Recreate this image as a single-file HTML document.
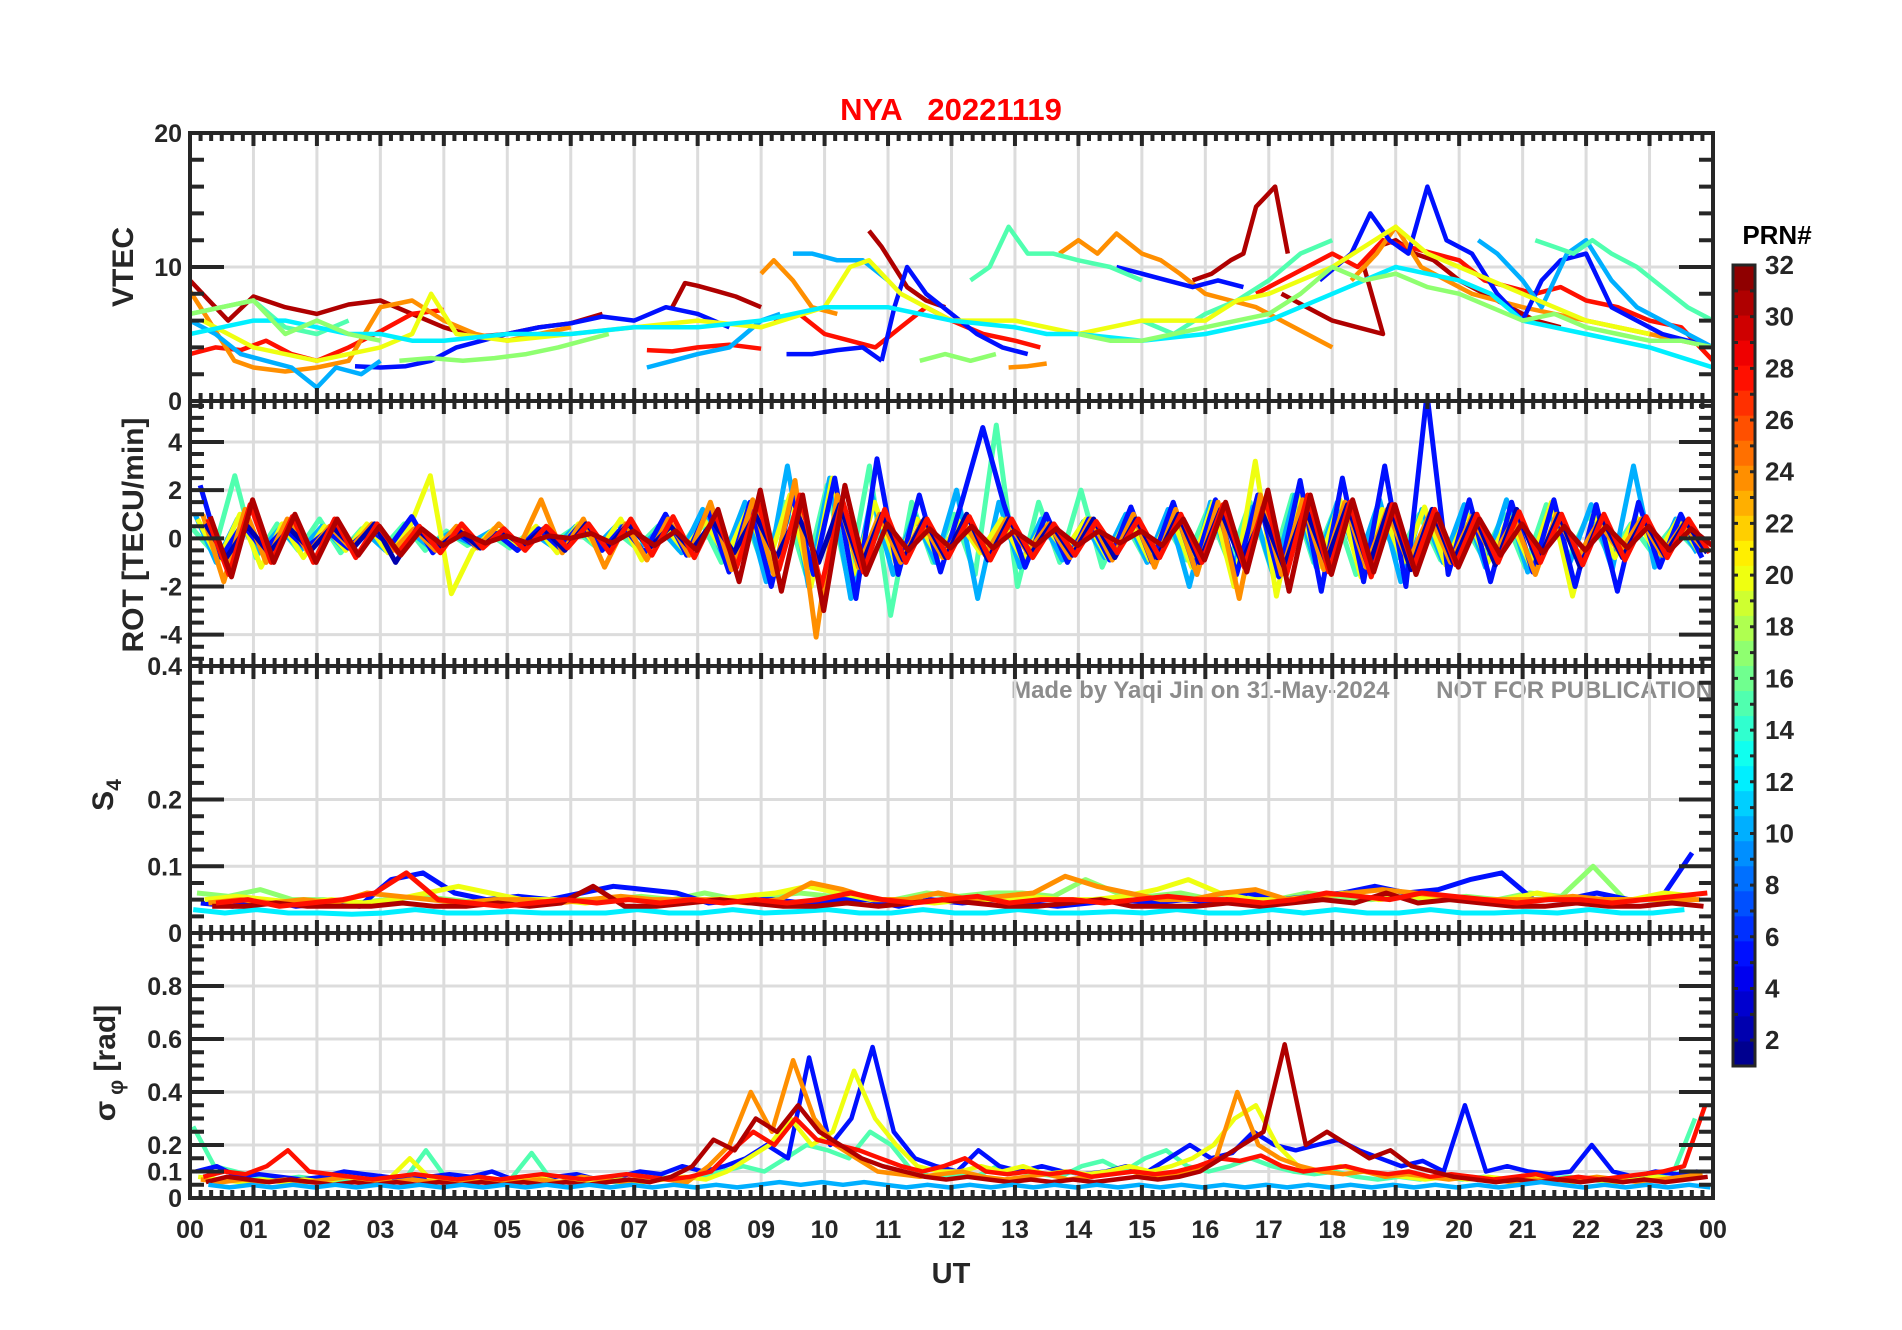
<!DOCTYPE html>
<html><head><meta charset="utf-8">
<style>
html,body{margin:0;padding:0;background:#fff;}
svg{display:block;font-family:"Liberation Sans",Arial,sans-serif;font-weight:bold;}
</style></head>
<body>
<svg id="chart" width="1902" height="1330" viewBox="0 0 1902 1330" xmlns="http://www.w3.org/2000/svg">
<rect width="1902" height="1330" fill="#fff"/>
<text x="951" y="120" text-anchor="middle" font-size="31" fill="#ff0000" xml:space="preserve">NYA   20221119</text>
<text x="1713" y="698" text-anchor="end" font-size="24" fill="#8c8c8c" xml:space="preserve">Made by Yaqi Jin on 31-May-2024       NOT FOR PUBLICATION</text>
<text transform="translate(133,267) rotate(-90)" text-anchor="middle" font-size="30" fill="#262626">VTEC</text>
<text transform="translate(143,535) rotate(-90)" text-anchor="middle" font-size="30" fill="#262626">ROT [TECU/min]</text>
<text transform="translate(113,795) rotate(-90)" text-anchor="middle" font-size="30" fill="#262626">S<tspan font-size="21" dy="8">4</tspan></text>
<text transform="translate(115,1063) rotate(-90)" text-anchor="middle" font-size="30" fill="#262626">σ<tspan font-size="21" dy="8"> φ</tspan><tspan dy="-8"> [rad]</tspan></text>
<text x="951" y="1283" text-anchor="middle" font-size="29" fill="#262626">UT</text>
<text x="1777" y="244" text-anchor="middle" font-size="26" fill="#000">PRN#</text>
<g id="layer"></g>
</svg>
<script>
// ---------- data ----------
const hourLabels=["00","01","02","03","04","05","06","07","08","09","10","11","12","13","14","15","16","17","18","19","20","21","22","23","00"];
const vtecTicks=[0,10,20];
const rotTicks=[-4,-2,0,2,4];
const s4Ticks=[0,0.1,0.2,0.4];
const sigTicks=[0,0.1,0.2,0.4,0.6,0.8];
const prnTicks=[2,4,6,8,10,12,14,16,18,20,22,24,26,28,30,32];

// VTEC segments: prn, times (h), values (TECU)
const vtecPrn=[31,31,31,31,31,28,28,28,28,24,24,24,24,24,5,5,5,5,5,10,10,10,10,15,15,15,15,20,12,17,17,17,17];
const vtecT=[
[0,0.3,0.6,1,1.5,2,2.5,3,3.5,4,4.5,5,5.5,6,6.5],
[7.6,7.8,8,8.3,8.6,9],
[10.7,10.9,11.1,11.3,11.6,11.9],
[15.8,16.1,16.4,16.6,16.8,17,17.1,17.3],
[17.2,17.6,18,18.4,18.8,18.5,18.7,19,19.3,19.6,20,20.4,20.8,21.2,21.6],
[0,0.4,0.8,1.2,1.6,2,2.5,3,3.5,4],
[7.2,7.6,8,8.5,9],
[9.2,9.6,10,10.4,10.8,11.2,11.6,12,12.5,13,13.4],
[16.8,17.2,17.6,18,18.4,18.8,19.2,19.6,20,20.4,20.8,21.2,21.6,22,22.5,23,23.5,24],
[0,0.3,0.7,1,1.5,2,2.5,3,3.5,4,4.5,5,5.5,6],
[9,9.2,9.5,9.8,10.2],
[12.9,13.2,13.5],
[13.7,14,14.3,14.6,15,15.3,15.6,16,16.4,16.8,17.2,17.6,18],
[18.3,18.7,19,19.4,19.8,20.2,20.6,21,21.5,22,22.5,23,23.5,24],
[2.6,3,3.4,3.8,4.2,4.6,5,5.5,6,6.5,7,7.5,8,8.5],
[9.4,9.8,10.2,10.6,10.9],
[10.9,11.1,11.3,11.6,12,12.4,12.8,13.2],
[14.6,15,15.4,15.8,16.2,16.6],
[17.8,18.3,18.6,18.9,19.2,19.5,19.8,20.2,20.6,21,21.3,21.6,22,22.4,22.8,23.2,23.6,24],
[0,0.4,0.8,1.2,1.6,2,2.3,2.7,3],
[7.2,7.6,8,8.5,9,9.3],
[9.5,9.8,10.2,10.6,11],
[20.3,20.6,21,21.3,21.7,22,22.4,22.8,23.2,23.6,24],
[0,0.5,1,1.5,2,2.5],
[12.3,12.6,12.9,13.2,13.6,14,14.5,15],
[15,15.5,16,16.5,17,17.5,18],
[21.2,21.5,21.8,22.1,22.4,22.8,23.2,23.6,24],
[0.2,0.6,1,1.5,2,2.5,3,3.5,3.8,4.2,5,6,7,8,9,10,10.4,10.7,11.2,12,13,14,15,16,16.5,17,17.5,18,18.5,19,19.5,20,21,22,23],
[0,0.5,1,1.5,2,2.5,3,3.5,4,5,6,7,8,9,10,11,12,13,13.5,14,15,16,17,18,19,20,20.5,21,22,23,24],
[0,0.5,1,1.5,2,2.5,3],
[3.3,3.8,4.3,4.8,5.3,5.8,6.2,6.6],
[11.5,11.9,12.3,12.7],
[14,14.5,15,15.5,16,16.5,17,17.5,18,18.5,19,19.5,20,20.5,21,21.5,22,22.5,23,23.5,24]
];
const vtecV=[
[9,7.5,6,7.8,7,6.5,7.2,7.5,6.5,5.5,4.8,5,5.5,5.8,6.5],
[7,8.8,8.6,8.2,7.8,7],
[12.7,11.5,10,8.5,7.5,7],
[9,9.5,10.5,11,14.5,15.5,16,11],
[8,7,6,5.5,5,10,11.5,12,11,10.5,9,8,7,6,5.5],
[3.5,4,3.8,4.5,3.5,3,4,5.2,6.5,6.8],
[3.8,3.7,4,4.2,3.9],
[6,6.5,5,4.5,4,5.5,7,6,5,4.5,4],
[8,9,10,11,10,12,11.5,11,10.5,9,8.5,8,8.5,7.5,7,6,5.5,3],
[8.2,6,3,2.5,2.2,2.5,3,7,7.5,6,5,4.5,5,5.5],
[9.5,10.5,9,7,6.5],
[2.5,2.6,2.8],
[11,12,11,12.5,11,10.5,9.5,8,7.5,7,6,5,4],
[9,11,13,10,9,8,7.5,7,6.5,6,5.5,5,4.5,4],
[2.6,2.5,2.6,3,4,4.5,5,5.5,5.8,6.3,6,7,6.5,5.5],
[3.5,3.5,3.8,4,3],
[3,7,10,8,6.5,5,4,3.5],
[10,9.5,9,8.5,9,8.5],
[9,11,14,12,11,16,12,11,8,6,9,10.5,11,7,6,5,4.5,4],
[6,5,3.5,3,2.5,1,2.5,2,3],
[2.5,3,3.5,4,6,6.5],
[11,11,10.5,10.5,9],
[12,11,9,7,11,12,9,7,6,5,4],
[6.5,7,7.5,5.5,5,6],
[9,10,13,11,11,10.5,10,9],
[6,5,6.5,7.5,9,11,12],
[12,11.5,11,12,11,10,8.5,7,6],
[6,5,4,3.5,3,3.5,4,5,8,5,4.5,5,5.5,6,5.5,7,10,10.5,8,6,6,5,6,6,7.5,8,9,10,11.5,13,11,10,8,6,5],
[5,5.5,6,6,5.5,5,5,4.5,4.5,5,5,5.5,5.5,6,7,7,6,5.5,5,5,4.5,5,6,8,10,9,8,6,5,4,2.5],
[6.5,7,7.5,5,6,5,4.5],
[3,3.2,3,3.2,3.5,4,4.5,5],
[3,3.5,3,3.5],
[5,4.5,4.5,5,5.5,6,6.5,8,10,9,9.5,8.5,8,7,6,6.5,5.5,5,4.5,4.5,4]
];

// ROT: one value every 20 minutes (72 per series)
const rotPrn=[15,10,20,5,24,2,28,31];
const rotVals=[
[0.4,-0.6,2.6,-0.8,0.6,-0.5,0.8,-0.6,0.4,-0.4,0.6,-0.5,0.3,-0.3,0.2,-0.4,0.3,-0.2,0.4,-0.3,0.3,-0.4,0.5,-0.5,0.8,-1.0,1.2,-1.2,1.5,-1.5,2.2,-1.8,3.0,-3.2,1.5,-1.0,1.0,-1.5,4.7,-2.0,1.5,-1.0,2.0,-1.2,0.8,-0.8,0.6,-0.9,1.2,-1.0,1.5,-1.3,1.8,-1.0,1.2,-1.5,1.0,-0.8,1.0,-0.9,0.8,-0.8,1.0,-1.2,1.4,-0.9,1.0,-0.8,0.6,-0.6,0.5,-0.4],
[1.0,-1.0,0.8,-0.6,0.4,-0.5,0.5,-0.4,0.3,-0.5,0.4,-0.3,0.2,-0.2,0.3,-0.3,0.2,-0.4,0.5,-0.3,0.6,-0.4,0.4,-0.6,1.2,-0.8,1.5,-1.8,3.0,-2.0,2.5,-2.5,1.8,-1.5,1.0,-1.0,2.0,-2.5,1.5,-1.2,0.8,-0.9,0.7,-0.8,1.0,-1.0,1.2,-2.0,1.5,-1.4,1.3,-1.6,1.8,-1.2,1.5,-1.0,1.6,-1.8,1.2,-1.0,1.4,-1.2,1.6,-1.4,1.2,-1.0,1.4,-1.3,3.0,-1.2,0.8,-0.6],
[0.8,-0.9,1.0,-1.2,0.6,-0.8,0.5,-0.5,0.6,-0.6,0.4,2.6,-2.3,-0.5,0.4,-0.3,0.5,-0.6,0.6,-0.5,0.8,-0.9,0.6,-0.5,0.7,-0.8,1.2,-1.0,1.8,-2.0,2.5,-1.5,1.5,-1.0,0.8,-0.8,0.7,-0.6,0.8,-0.9,0.6,-0.5,0.8,-0.8,0.9,-0.9,1.0,-1.2,1.5,-2.0,3.2,-2.4,1.8,-1.2,1.6,-1.6,1.2,-1.0,1.3,-1.1,1.0,-1.0,0.9,-1.1,1.5,-2.4,1.0,-0.8,0.9,-0.7,0.8,-0.6],
[2.2,-0.8,0.6,-0.5,0.4,-0.4,0.3,-0.4,0.4,-0.3,0.9,-0.6,0.3,-0.3,0.2,-0.5,0.4,-0.4,0.6,-0.5,0.5,-0.6,1.0,-0.7,1.2,-1.4,1.5,-2.0,1.8,-1.5,2.5,-2.5,3.3,-1.5,1.8,-1.4,1.5,4.6,1.4,-1.2,1.0,-1.0,0.8,-0.9,1.3,-1.0,1.5,-1.2,1.6,-1.5,1.8,-1.6,2.4,-2.2,2.5,-1.8,3.0,-2.0,6.0,-1.5,1.6,-1.8,1.5,-1.4,1.6,-2.0,1.4,-2.2,1.5,-1.2,1.0,-0.8],
[1.0,-1.8,1.2,-1.0,0.8,-0.6,0.5,-0.4,0.6,-0.5,0.4,-0.5,0.5,-0.4,0.6,-0.3,1.6,-0.6,0.8,-1.2,0.6,-0.9,0.8,-0.7,1.5,-1.3,1.6,-1.5,2.4,-4.1,1.8,-1.2,1.0,-1.0,0.7,-0.8,0.6,-0.7,0.8,-0.6,0.6,-0.8,0.8,-0.9,1.0,-1.2,1.2,-1.5,1.5,-2.5,1.8,-1.5,1.6,-1.3,1.5,-1.2,1.2,-1.0,1.0,-1.0,0.9,-0.8,0.8,-1.5,1.0,-0.8,0.7,-0.6,0.8,-0.7,0.6,-0.5],
[0.6,-0.8,0.5,-0.6,0.4,-0.5,0.5,-0.4,0.6,-1.0,0.4,-0.4,0.3,-0.4,0.3,-0.3,0.4,-0.5,0.6,-0.4,0.6,-0.4,0.5,-0.5,0.7,-0.6,1.0,-0.8,1.0,-1.0,1.4,-1.2,1.0,-0.9,0.8,-0.8,1.0,-0.9,0.8,-0.7,0.6,-0.7,0.8,-0.8,0.8,-0.8,1.0,-1.0,1.2,-1.0,1.0,-1.2,1.3,-1.0,1.4,-1.2,1.4,-1.3,1.2,-1.0,1.0,-1.1,1.2,-1.0,1.0,-1.2,0.9,-0.8,0.8,-0.7,0.7,-0.6],
[0.8,-1.5,1.4,-1.0,0.9,-1.0,0.8,-0.8,0.6,-0.6,0.5,-0.6,0.6,-0.4,0.4,-0.5,0.5,-0.4,0.6,-0.6,0.8,-0.7,0.9,-0.8,1.0,-1.2,1.5,-1.3,1.8,-2.0,1.6,-1.4,1.2,-1.0,0.8,-0.8,0.9,-0.9,0.8,-0.8,0.6,-0.7,0.7,-0.6,0.8,-0.8,1.0,-1.0,1.4,-1.2,1.6,-1.5,1.8,-1.4,1.5,-1.6,1.4,-1.2,1.2,-1.1,1.0,-1.0,1.1,-1.0,1.0,-1.1,1.0,-0.9,0.9,-0.8,0.8,-0.6],
[0.9,-1.6,1.6,-1.0,1.0,-1.0,0.8,-0.7,0.5,-0.7,0.4,-0.3,0.2,-0.2,0.1,-0.2,0.1,0,0.2,-0.2,0.3,-0.3,0.3,-0.5,1.2,-1.8,2.0,-2.2,1.8,-3.0,2.2,-1.5,0.6,-0.5,0.4,-0.4,0.5,-0.4,0.3,-0.3,0.4,-0.3,0.3,-0.2,0.3,-0.3,0.8,-0.9,1.5,-1.4,2.0,-2.2,1.8,-1.5,1.6,-1.4,1.4,-1.5,1.0,-1.2,0.8,-0.7,0.6,-0.6,0.5,-0.5,0.5,-0.4,0.5,-0.5,0.4,-0.3]
];

// S4: one value every 30 minutes (48 per series)
const s4Prn=[12,17,5,20,24,31,28];
const s4Vals=[
[0.035,0.03,0.035,0.03,0.03,0.028,0.03,0.035,0.03,0.03,0.032,0.03,0.03,0.03,0.035,0.03,0.03,0.035,0.03,0.032,0.035,0.03,0.03,0.035,0.03,0.03,0.035,0.03,0.03,0.032,0.03,0.035,0.03,0.03,0.035,0.03,0.035,0.03,0.03,0.035,0.03,0.03,0.032,0.03,0.035,0.03,0.03,0.035],
[0.06,0.055,0.065,0.05,0.05,0.045,0.05,0.055,0.05,0.045,0.05,0.05,0.05,0.05,0.055,0.05,0.06,0.05,0.055,0.06,0.055,0.05,0.05,0.06,0.055,0.06,0.06,0.055,0.08,0.06,0.055,0.06,0.05,0.055,0.05,0.06,0.055,0.05,0.055,0.05,0.055,0.05,0.06,0.055,0.1,0.05,0.05,0.055],
[0.045,0.04,0.05,0.04,0.045,0.04,0.08,0.09,0.06,0.05,0.055,0.05,0.06,0.07,0.065,0.06,0.045,0.05,0.05,0.045,0.05,0.05,0.04,0.05,0.045,0.05,0.045,0.04,0.045,0.05,0.045,0.05,0.045,0.06,0.05,0.055,0.06,0.07,0.06,0.065,0.08,0.09,0.05,0.05,0.06,0.05,0.05,0.12],
[0.05,0.055,0.05,0.045,0.05,0.045,0.05,0.06,0.07,0.06,0.05,0.05,0.045,0.05,0.05,0.045,0.05,0.055,0.06,0.07,0.06,0.05,0.05,0.045,0.05,0.05,0.055,0.05,0.05,0.055,0.065,0.08,0.06,0.05,0.05,0.055,0.06,0.05,0.055,0.05,0.05,0.05,0.06,0.05,0.05,0.05,0.06,0.055],
[0.045,0.05,0.045,0.05,0.045,0.06,0.055,0.05,0.045,0.05,0.05,0.045,0.05,0.055,0.05,0.05,0.05,0.045,0.05,0.075,0.065,0.05,0.05,0.06,0.05,0.055,0.06,0.085,0.07,0.06,0.05,0.05,0.06,0.065,0.05,0.055,0.06,0.065,0.06,0.055,0.05,0.05,0.05,0.055,0.05,0.05,0.05,0.05],
[0.04,0.04,0.045,0.04,0.04,0.04,0.045,0.04,0.04,0.045,0.04,0.045,0.07,0.04,0.04,0.045,0.05,0.045,0.04,0.04,0.045,0.04,0.045,0.05,0.045,0.04,0.04,0.045,0.05,0.04,0.04,0.04,0.045,0.04,0.045,0.05,0.045,0.06,0.045,0.05,0.045,0.04,0.04,0.045,0.04,0.04,0.045,0.04],
[0.045,0.05,0.04,0.045,0.05,0.06,0.09,0.05,0.045,0.04,0.045,0.05,0.045,0.05,0.045,0.05,0.045,0.05,0.045,0.05,0.06,0.05,0.045,0.05,0.055,0.045,0.05,0.05,0.045,0.05,0.055,0.05,0.05,0.045,0.05,0.06,0.055,0.05,0.06,0.055,0.05,0.045,0.05,0.05,0.045,0.05,0.055,0.06]
];

// sigma phi: one value every 20 minutes (72 per series)
const sigPrn=[15,5,20,24,28,31,10];
const sigVals=[
[0.27,0.12,0.1,0.08,0.07,0.08,0.07,0.06,0.07,0.08,0.07,0.18,0.07,0.06,0.06,0.07,0.17,0.06,0.06,0.07,0.06,0.07,0.08,0.07,0.08,0.1,0.12,0.1,0.15,0.2,0.18,0.15,0.25,0.2,0.1,0.08,0.09,0.08,0.12,0.1,0.09,0.08,0.12,0.14,0.1,0.15,0.18,0.12,0.1,0.12,0.15,0.12,0.1,0.09,0.1,0.08,0.07,0.08,0.07,0.08,0.07,0.08,0.07,0.06,0.07,0.08,0.07,0.06,0.07,0.08,0.1,0.3],
[0.1,0.12,0.08,0.09,0.08,0.07,0.08,0.1,0.09,0.08,0.07,0.08,0.09,0.08,0.1,0.07,0.08,0.08,0.09,0.07,0.08,0.1,0.09,0.12,0.1,0.12,0.15,0.2,0.15,0.53,0.2,0.3,0.57,0.25,0.15,0.12,0.1,0.18,0.12,0.1,0.12,0.1,0.09,0.1,0.12,0.1,0.15,0.2,0.15,0.17,0.25,0.2,0.18,0.2,0.22,0.18,0.15,0.12,0.14,0.1,0.35,0.1,0.12,0.1,0.09,0.1,0.2,0.1,0.08,0.1,0.09,0.1],
[0.08,0.07,0.06,0.07,0.06,0.07,0.06,0.08,0.06,0.07,0.15,0.07,0.06,0.07,0.06,0.07,0.08,0.06,0.07,0.06,0.07,0.06,0.07,0.08,0.07,0.1,0.15,0.2,0.3,0.2,0.25,0.48,0.3,0.2,0.12,0.1,0.1,0.12,0.1,0.12,0.09,0.1,0.09,0.1,0.12,0.1,0.12,0.15,0.2,0.3,0.35,0.2,0.12,0.1,0.12,0.1,0.09,0.08,0.07,0.08,0.07,0.08,0.07,0.08,0.07,0.06,0.07,0.06,0.07,0.08,0.07,0.08],
[0.07,0.06,0.07,0.06,0.07,0.06,0.07,0.08,0.07,0.06,0.07,0.06,0.07,0.06,0.07,0.06,0.07,0.06,0.08,0.07,0.06,0.08,0.07,0.06,0.12,0.2,0.4,0.25,0.52,0.3,0.2,0.15,0.1,0.09,0.08,0.09,0.1,0.08,0.07,0.08,0.09,0.07,0.08,0.09,0.1,0.08,0.09,0.1,0.15,0.4,0.2,0.15,0.12,0.1,0.09,0.1,0.08,0.09,0.08,0.07,0.08,0.07,0.06,0.07,0.06,0.07,0.08,0.07,0.06,0.07,0.08,0.09],
[0.08,0.1,0.09,0.12,0.18,0.1,0.09,0.08,0.07,0.08,0.09,0.08,0.07,0.08,0.07,0.08,0.09,0.08,0.07,0.08,0.09,0.08,0.07,0.08,0.1,0.18,0.25,0.2,0.3,0.22,0.2,0.18,0.15,0.12,0.1,0.12,0.15,0.1,0.09,0.1,0.09,0.1,0.08,0.09,0.1,0.09,0.1,0.12,0.15,0.14,0.16,0.12,0.1,0.11,0.12,0.1,0.09,0.1,0.08,0.09,0.08,0.07,0.08,0.09,0.07,0.08,0.07,0.08,0.09,0.1,0.12,0.35],
[0.06,0.08,0.07,0.06,0.07,0.06,0.05,0.06,0.05,0.06,0.05,0.06,0.05,0.06,0.05,0.06,0.05,0.06,0.05,0.06,0.07,0.06,0.08,0.12,0.22,0.18,0.3,0.25,0.35,0.25,0.2,0.15,0.12,0.1,0.08,0.07,0.08,0.07,0.06,0.07,0.06,0.07,0.06,0.07,0.08,0.07,0.08,0.1,0.15,0.2,0.25,0.58,0.2,0.25,0.2,0.15,0.18,0.12,0.1,0.08,0.07,0.06,0.07,0.06,0.07,0.06,0.07,0.06,0.07,0.06,0.07,0.08],
[0.05,0.04,0.05,0.04,0.05,0.04,0.05,0.04,0.05,0.04,0.05,0.04,0.05,0.04,0.05,0.04,0.05,0.04,0.05,0.04,0.05,0.04,0.05,0.04,0.05,0.04,0.05,0.06,0.05,0.06,0.05,0.06,0.05,0.04,0.05,0.04,0.05,0.04,0.05,0.04,0.05,0.04,0.05,0.04,0.05,0.04,0.05,0.04,0.05,0.04,0.05,0.04,0.05,0.04,0.05,0.04,0.05,0.04,0.05,0.04,0.05,0.04,0.05,0.06,0.05,0.04,0.05,0.04,0.05,0.04,0.05,0.04]
];

// ---------- layout ----------
const NS="http://www.w3.org/2000/svg";
const L=190,R=1713;
const panels=[
 {name:"vtec",top:133,bot:401,min:0,max:20},
 {name:"rot",top:401,bot:666,min:-5.3,max:5.7},
 {name:"s4",top:666,bot:933,min:0,max:0.4},
 {name:"sigma",top:933,bot:1198,min:0,max:1}
];
const xs=h=>L+h*(R-L)/24;
const ys=(p,v)=>p.bot-(v-p.min)*(p.bot-p.top)/(p.max-p.min);
function jet(v){
  const r=Math.min(Math.max(Math.min(4*v-1.5,-4*v+4.5),0),1);
  const g=Math.min(Math.max(Math.min(4*v-0.5,-4*v+3.5),0),1);
  const b=Math.min(Math.max(Math.min(4*v+0.5,-4*v+2.5),0),1);
  return `rgb(${Math.round(r*255)},${Math.round(g*255)},${Math.round(b*255)})`;
}
const prnColor=p=>jet((p-0.5)/32);
function mk(tag,attrs,parent){const e=document.createElementNS(NS,tag);for(const k in attrs)e.setAttribute(k,attrs[k]);parent.appendChild(e);return e;}
const layer=document.getElementById("layer");
const AX="#262626";
const tickSets=[vtecTicks,rotTicks,s4Ticks,sigTicks];
const minorSteps=[2,0.5,0.025,0.05];

const defs=mk("defs",{},layer);
panels.forEach((p,i)=>{
  const cp=mk("clipPath",{id:"clip"+i},defs);
  mk("rect",{x:L,y:p.top,width:R-L,height:p.bot-p.top},cp);
});

panels.forEach((p,i)=>{
  const g=mk("g",{},layer);
  
  
  for(let h=1;h<24;h++){
    const gl=mk("line",{x1:xs(h),x2:xs(h),y1:p.top,y2:p.bot,stroke:"#dcdcdc","stroke-width":3},g);
    
    
  }
  tickSets[i].forEach(v=>{
    const gl=mk("line",{x1:L,x2:R,y1:ys(p,v),y2:ys(p,v),stroke:"#dcdcdc","stroke-width":3},g);
    
    
  });
});

function drawLine(pi,times,vals,color,nm,w){
  const p=panels[pi];
  const d=times.map((t,k)=>(k?"L":"M")+xs(t).toFixed(1)+" "+ys(p,vals[k]).toFixed(1)).join("");
  const path=mk("path",{d:d,fill:"none",stroke:color,"stroke-width":w,"stroke-linejoin":"round","clip-path":`url(#clip${pi})`},layer);
  
  
}
vtecT.forEach((t,k)=>drawLine(0,t,vtecV[k],prnColor(vtecPrn[k]),'vtec-line-prn'+vtecPrn[k],4.5));
rotVals.forEach((v,k)=>drawLine(1,v.map((_,j)=>j/3+0.04+k*0.04),v,prnColor(rotPrn[k]),'rot-line-prn'+rotPrn[k],5));
s4Vals.forEach((v,k)=>drawLine(2,v.map((_,j)=>j/2+0.05+k*0.06),v,prnColor(s4Prn[k]),'s4-line-prn'+s4Prn[k],5));
sigVals.forEach((v,k)=>drawLine(3,v.map((_,j)=>j/3+0.05+k*0.04),v,prnColor(sigPrn[k]),'sigma-line-prn'+sigPrn[k],4.5));

panels.forEach((p,i)=>{
  const g=mk("g",{},layer);
  
  
  let d="";
  for(let m=0;m<=144;m++){
    const x=xs(m/6), len=(m%6===0)?13:8;
    d+=`M${x} ${p.top}v${len}M${x} ${p.bot}v${-len}`;
  }
  const st=minorSteps[i];
  const first=Math.ceil(p.min/st);
  for(let k=first;k*st<=p.max+1e-9;k++){
    const v=k*st, y=ys(p,v);
    const major=tickSets[i].some(t=>Math.abs(t-v)<1e-9);
    const len=major?34:14;
    d+=`M${L} ${y}h${len}M${R} ${y}h${-len}`;
  }
  const tk=mk("path",{d:d,stroke:AX,"stroke-width":4,fill:"none"},g);
  
  
  const box=mk("rect",{x:L,y:p.top,width:R-L,height:p.bot-p.top,fill:"none",stroke:AX,"stroke-width":4},g);
  
  
  tickSets[i].forEach(v=>{
    const t=mk("text",{x:L-8,y:ys(p,v)+9,"text-anchor":"end","font-size":25,fill:AX},g);
    t.textContent=String(v);
    
    
  });
});
hourLabels.forEach((lab,h)=>{
  const t=mk("text",{x:xs(h),y:1238,"text-anchor":"middle","font-size":25,fill:AX},layer);
  t.textContent=lab;
  
  
});

// colorbar
const cb={x:1733,w:22,top:265,bot:1066,min:1,max:32};
const cby=v=>cb.bot-(v-cb.min)*(cb.bot-cb.top)/(cb.max-cb.min);
const cg=mk("g",{},layer);


const bandH=(cb.bot-cb.top)/32;
for(let p=1;p<=32;p++){
  const r=mk("rect",{x:cb.x,y:cb.bot-p*bandH,width:cb.w,height:bandH+0.5,fill:prnColor(p)},cg);
  
  
}
let cd="";
for(let p=1;p<=32;p++){const y=cby(p);cd+=`M${cb.x} ${y}h5M${cb.x+cb.w} ${y}h-5`;}
const ct=mk("path",{d:cd,stroke:AX,"stroke-width":3},cg);


const cbox=mk("rect",{x:cb.x,y:cb.top,width:cb.w,height:cb.bot-cb.top,fill:"none",stroke:AX,"stroke-width":3},cg);


prnTicks.forEach(v=>{
  const t=mk("text",{x:cb.x+cb.w+10,y:cby(v)+9,"font-size":26,fill:AX},cg);
  t.textContent=String(v);
  
  
});
</script>
</body></html>
